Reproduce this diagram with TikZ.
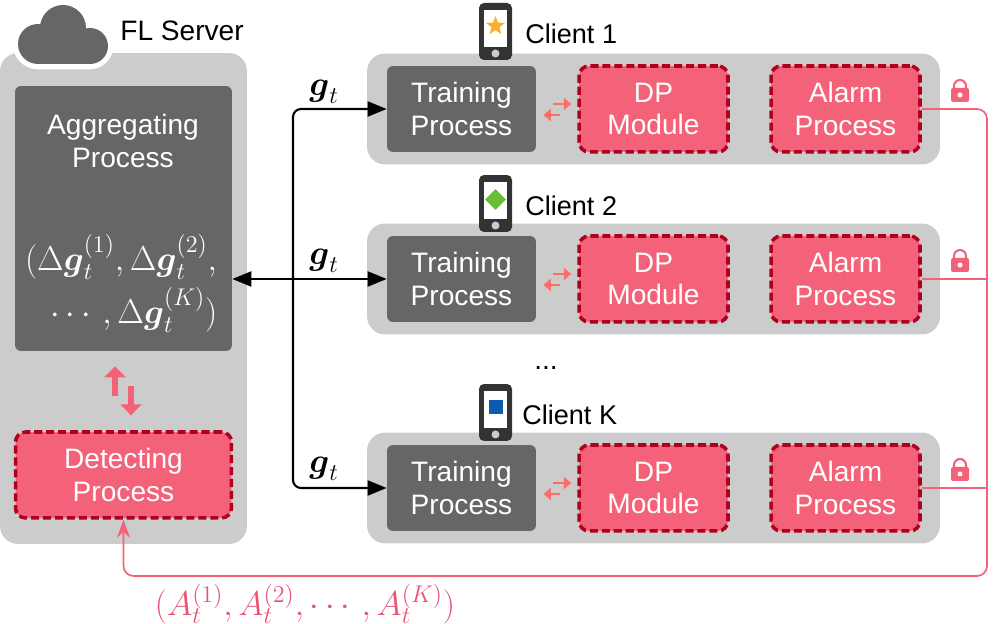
\documentclass[tikz,border=0pt]{standalone}
\usepackage{fix-cm}
\usepackage{amsmath}
\usepackage{fontspec}
\setmainfont{Liberation Sans}
\usetikzlibrary{shapes.geometric,arrows.meta}
\definecolor{flgray}{HTML}{CCCCCC}
\definecolor{fldark}{HTML}{666666}
\definecolor{flpink}{HTML}{F4627A}
\definecolor{flred}{HTML}{B00020}
\definecolor{flsalmon}{HTML}{FB6F66}
\definecolor{flphone}{HTML}{333333}
\definecolor{fltext}{HTML}{E95473}
\definecolor{flstar}{HTML}{FBB02D}
\definecolor{flleaf}{HTML}{6ABD35}
\definecolor{flblue}{HTML}{0A5CB0}
\newcommand{\alarmterm}[1]{A^{\smash{(#1)}}_{\smash{t}}}

\begin{document}
\begin{tikzpicture}[
    x=0.02cm, y=-0.02cm,
    every node/.style={font=\fontsize{16}{18.7}\selectfont, inner sep=0pt},
    mathlabel/.style={font=\fontsize{19.6}{22}\selectfont},
    group/.style={fill=flgray, rounded corners=0.36cm, minimum width=11.46cm, minimum height=2.22cm},
    dark/.style={fill=fldark, text=white, rounded corners=0.12cm, align=center},
    train/.style={dark, minimum width=2.98cm, minimum height=1.72cm},
    secure/.style={fill=flpink, draw=flred, line width=2pt, dash pattern=on 4.6pt off 2.2pt, rounded corners=0.2cm, text=white, align=center, minimum width=2.98cm, minimum height=1.72cm},
    phone/.style={fill=flphone, rounded corners=0.1cm, minimum width=0.66cm, minimum height=1.14cm},
    screen/.style={fill=white, minimum width=0.46cm, minimum height=0.74cm},
    arrow/.style={line width=1.2pt, rounded corners=0.16cm, -{Triangle[length=0.38cm,width=0.3cm]}},
    alarm/.style={draw=flpink, line width=0.95pt, rounded corners=0.2cm},
    pair/.style={draw=flsalmon, line width=1.5pt, -{Triangle[length=0.15cm,width=0.24cm]}},
    bigpair/.style={draw=flpink, line width=3.4pt, -{Triangle[length=0.22cm,width=0.42cm]}},
    lock/.pic={
        \draw[flpink, line width=1.2pt] (-6,-2) -- (-6,-5) arc (180:360:6 and 6) -- (6,-2);
        \fill[flpink, rounded corners=0.04cm] (-9,-3) rectangle (9,11);
        \fill[white] (0,4) circle (2.5);
    }
]
\useasboundingbox (0,0) rectangle (994,624);

% FL server
\node[fill=flgray, rounded corners=0.36cm, minimum width=4.94cm, minimum height=9.82cm] (server) at (123.5,298.5) {};
\draw[white, line width=6pt] (38,44) circle (20) (90,46) circle (18) (38,64) -- (90,64);
\fill[fldark] (63,28) circle (23);
\fill[fldark] (38,44) circle (20);
\fill[fldark] (90,46) circle (18);
\fill[fldark] (38,40) rectangle (90,64);
\node[anchor=west] (servername) at (120,31) {FL Server};
\node[dark, minimum width=4.34cm, minimum height=5.3cm] (agg) at (123.5,218.5) {};
\node[text=white, align=center] (aggname) at (123,141) {Aggregating\\Process};
\node[secure, minimum width=4.32cm] (detect) at (123.5,475) {Detecting\\Process};
\node[mathlabel, text=white] (aggmath1) at (121,257) {$(\Delta\boldsymbol{g}_t^{(1)},\Delta\boldsymbol{g}_t^{(2)},$};
\node[mathlabel, text=white] (aggmath2) at (134,310) {$\cdots,\Delta\boldsymbol{g}_t^{(K)})$};

% Clients
\foreach \n/\y/\py/\lx in {1/109/31.5/525, 2/279/203.5/525, K/488/412.5/522} {
    \node[group] (client\n) at (653.5,\y) {};
    \node[train] (train\n) at (461.5,\y) {Training\\Process};
    \node[secure] (dp\n) at (653.5,\y) {DP\\Module};
    \node[secure] (alarm\n) at (845.5,\y) {Alarm\\Process};
    \node[phone] (phone\n) at (495.5,\py) {};
    \node[screen] (screen\n) at (495.5,\py-3) {};
    \fill[flgray] (495.5,\py+22) circle (4);
    \node[anchor=west, font=\fontsize{15.4}{18}\selectfont] (name\n) at (\lx,\py+2) {Client \n};
    \pic at (960,\y-18) {lock};
    \draw[pair] ([xshift=0.34cm,yshift=0.1cm]train\n.east) -- ([xshift=-0.12cm,yshift=0.1cm]dp\n.west);
    \draw[pair] ([xshift=-0.34cm,yshift=-0.12cm]dp\n.west) -- ([xshift=0.14cm,yshift=-0.12cm]train\n.east);
}

% Device icons
\node[star, star points=5, star point ratio=2.4, fill=flstar, minimum size=0.4cm] (icon1) at (495.5,26) {};
\node[diamond, fill=flleaf, minimum size=0.42cm] (icon2) at (495.5,199.5) {};
\node[fill=flblue, minimum size=0.28cm] (iconK) at (495.5,407.5) {};

% Server to clients
\coordinate (bus) at (293,279);
\draw[arrow] (bus) |- (train1);
\draw[arrow] (bus) |- (trainK);
\draw[arrow, {Triangle[length=0.38cm,width=0.3cm]}-{Triangle[length=0.38cm,width=0.3cm]}] (agg.east |- train2) -- (train2);
\node[mathlabel] (g1) at (324,92) {$\boldsymbol{g}_t$};
\node[mathlabel] (g2) at (324,261) {$\boldsymbol{g}_t$};
\node[mathlabel] (gK) at (324,469) {$\boldsymbol{g}_t$};

% Alarms back to server
\coordinate (corner) at (987,576);
\draw[alarm, -{Stealth[length=0.36cm,width=0.26cm]}] (alarm1) -| (corner) -| (detect);
\draw[alarm] (alarm2) -- (alarm2 -| corner);
\draw[alarm] (alarmK) -- (alarmK -| corner);
\node[mathlabel, text=fltext, anchor=base] (alarmmath) at (305,615) {$(\alarmterm{1},\alarmterm{2},\cdots,\alarmterm{K})$};

\draw[bigpair] ([xshift=-0.17cm,yshift=0.68cm]detect.north) -- ++(0,-30);
\draw[bigpair] ([xshift=0.15cm,yshift=-0.7cm]agg.south) -- ++(0,29);
\node (dots) at (546,368) {...};

\end{tikzpicture}
\end{document}
